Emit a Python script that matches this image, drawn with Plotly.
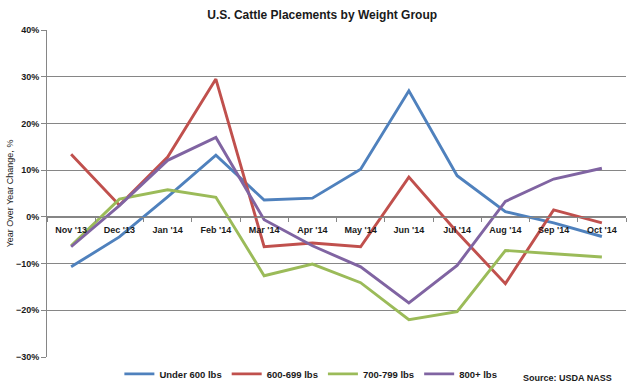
import plotly.graph_objects as go

months = ["Nov '13", "Dec '13", "Jan '14", "Feb '14", "Mar '14", "Apr '14",
          "May '14", "Jun '14", "Jul '14", "Aug '14", "Sep '14", "Oct '14"]
under_600 = [-10.7, -4.3, 4.3, 13.2, 3.6, 4.0, 10.2, 27.0, 8.8, 1.1, -1.3, -4.2]
w600_699 = [13.4, 2.5, 12.8, 29.5, -6.4, -5.6, -6.4, 8.5, -3.3, -14.3, 1.5, -1.3]
w700_799 = [-6.2, 3.8, 5.8, 4.2, -12.6, -10.1, -14.1, -22.0, -20.3, -7.2, -7.9, -8.6]
w800_plus = [-6.4, 2.4, 12.1, 17.0, -0.6, -6.2, -10.7, -18.4, -10.4, 3.3, 8.1, 10.4]
series_names = ["Under 600 lbs", "600-699 lbs", "700-799 lbs", "800+ lbs"]
colors = ["#4F81BD", "#C0504D", "#9BBB59", "#8064A2"]
y_ticks = [-30, -20, -10, 0, 10, 20, 30, 40]

fig = go.Figure()
for name, vals, c in zip(series_names, [under_600, w600_699, w700_799, w800_plus], colors):
    fig.add_trace(go.Scatter(x=months, y=[v / 100 for v in vals], mode="lines", name=name,
                             line=dict(color=c, width=2.9)))

font_family = "Liberation Sans, Arial, sans-serif"
txt = "#1a1a1a"
fig.update_layout(
    width=628, height=387,
    margin=dict(l=47, r=2, t=30, b=30, autoexpand=False),
    paper_bgcolor="white", plot_bgcolor="white",
    title=dict(text="<b>U.S. Cattle Placements by Weight Group</b>", x=0.513, xanchor="center",
               y=0.962, yanchor="middle", font=dict(family=font_family, size=12, color=txt)),
    font=dict(family=font_family, color=txt),
    showlegend=True,
    legend=dict(orientation="h", x=0.125, xanchor="left", yref="container", y=0.034,
                yanchor="middle", font=dict(size=9.5, color=txt, weight="bold"),
                itemwidth=30, tracegroupgap=0, bgcolor="rgba(0,0,0,0)"),
    xaxis=dict(anchor="free", position=3 / 7, showline=True, linecolor="#868686", linewidth=1,
               ticks="outside", tickson="boundaries", ticklen=4, tickcolor="#868686",
               showgrid=False, tickfont=dict(size=9, color=txt, weight="bold"),
               ticklabelstandoff=4, range=[-0.5, 11.5], automargin=False),
    yaxis=dict(range=[-0.3, 0.4], tickvals=[v / 100 for v in y_ticks], tickformat=".0%",
               showgrid=True, gridcolor="#868686", gridwidth=1, zeroline=False,
               showline=True, linecolor="#868686", linewidth=1, ticks="outside", ticklen=5,
               tickcolor="#868686", tickfont=dict(size=9, color=txt, weight="bold"),
               automargin=False,
               title=dict(text="Year Over Year Change, %", font=dict(size=9, color=txt),
                          standoff=0)),
    annotations=[dict(text="<b>Source: USDA NASS</b>", xref="paper", yref="paper", x=0.98,
                      y=-0.064, xanchor="right", yanchor="middle", showarrow=False,
                      font=dict(size=9, color=txt))],
)
fig.write_html("out.html", config={"displayModeBar": False},
               post_script="document.body.style.margin='0';document.body.style.overflow='hidden';")
